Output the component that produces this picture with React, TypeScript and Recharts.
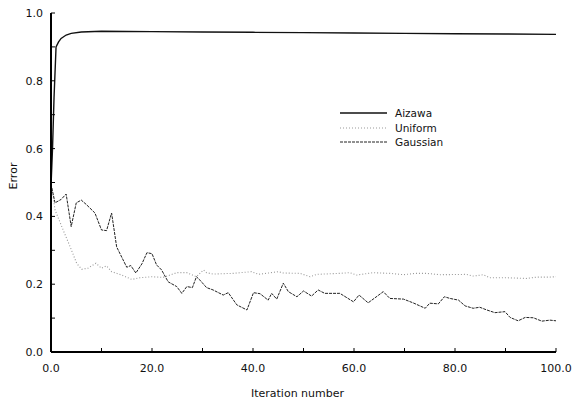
import React from "react";
import { LineChart, Line, XAxis, YAxis, Legend, Label } from "recharts";

const aizawa: number[][] = [
  [0, 0.49], [0.3, 0.6], [0.6, 0.75], [1, 0.9], [1.5, 0.915], [2, 0.925], [3, 0.935], [4, 0.94],
  [6, 0.944], [10, 0.946], [20, 0.945], [30, 0.944], [40, 0.943], [50, 0.942], [60, 0.941],
  [70, 0.94], [80, 0.939], [90, 0.938], [100, 0.937],
];

const uniform: number[][] = [
  [0, 0.5], [0.8, 0.419], [2.4, 0.36], [3.8, 0.31], [5.1, 0.261], [6.1, 0.244], [7.3, 0.247],
  [8.9, 0.262], [10, 0.247], [11, 0.254], [12, 0.237], [14, 0.227], [16, 0.214], [17.6, 0.219],
  [20, 0.222], [22.2, 0.22], [24.9, 0.234], [26.9, 0.234], [28.8, 0.222], [30.2, 0.242],
  [30.8, 0.234], [32.1, 0.23], [36.1, 0.232], [39.7, 0.237], [41.1, 0.229], [45, 0.237],
  [46, 0.233], [49.3, 0.232], [51.3, 0.222], [52.6, 0.229], [57.2, 0.232], [59.2, 0.234],
  [60.5, 0.227], [63.8, 0.234], [67.1, 0.232], [69.8, 0.228], [72.1, 0.232], [74.4, 0.232],
  [77, 0.228], [82.3, 0.229], [83.6, 0.224], [85.6, 0.228], [86.9, 0.219], [90.2, 0.219],
  [94.2, 0.217], [96.2, 0.221], [98.8, 0.221], [100, 0.222],
];

const gaussian: number[][] = [
  [0, 0.495], [0.8, 0.44], [2, 0.45], [3, 0.466], [4, 0.37], [5, 0.44], [6, 0.448], [7, 0.435],
  [8.7, 0.41], [10, 0.36], [11, 0.358], [12, 0.41], [13, 0.31], [14, 0.28], [15, 0.25],
  [15.8, 0.255], [16.8, 0.233], [18, 0.26], [19, 0.293], [20, 0.29], [20.9, 0.257], [21.9, 0.242],
  [23.2, 0.207], [24.9, 0.193], [25.9, 0.173], [26.9, 0.193], [28, 0.19], [28.8, 0.222],
  [29.5, 0.212], [30.8, 0.19], [32.1, 0.183], [34.1, 0.168], [35.1, 0.175], [36.8, 0.139],
  [38.8, 0.124], [40.1, 0.175], [41.4, 0.172], [43, 0.153], [43.7, 0.173], [44.7, 0.156],
  [46, 0.203], [47, 0.178], [48.7, 0.163], [50, 0.18], [51.6, 0.165], [52.9, 0.183],
  [54.2, 0.173], [57.2, 0.173], [59.9, 0.148], [61, 0.168], [62.8, 0.145], [65.8, 0.178],
  [67.1, 0.158], [69.8, 0.156], [71.7, 0.145], [74.1, 0.129], [75, 0.144], [76.7, 0.142],
  [77.9, 0.163], [79, 0.158], [80.7, 0.153], [82, 0.136], [83.6, 0.129], [84.9, 0.132],
  [86.3, 0.124], [87.9, 0.116], [89.9, 0.119], [90.9, 0.102], [92.5, 0.092], [93.9, 0.102],
  [95.5, 0.101], [97.2, 0.091], [98.8, 0.094], [100, 0.092],
];

const xTicks = [0, 10, 20, 30, 40, 50, 60, 70, 80, 90, 100];
const yTicks = [0, 0.1, 0.2, 0.3, 0.4, 0.5, 0.6, 0.7, 0.8, 0.9, 1.0];
const xLabeled = [0, 20, 40, 60, 80, 100];
const yLabeled = [0, 0.2, 0.4, 0.6, 0.8, 1.0];

const toPts = (arr: number[][]) => arr.map(([x, y]) => ({ x, y }));

const FONT = "'DejaVu Sans', sans-serif";

const series = [
  { name: "Aizawa", data: toPts(aizawa), stroke: "#111", dash: undefined as string | undefined, width: 1.4 },
  { name: "Uniform", data: toPts(uniform), stroke: "#999", dash: "1 2", width: 1.1 },
  { name: "Gaussian", data: toPts(gaussian), stroke: "#222", dash: "3 1", width: 1 },
];

const BottomTick = (props: any) => {
  const { x, y, payload } = props;
  const v = payload.value;
  const show = xLabeled.some((t) => Math.abs(t - v) < 1e-6);
  return (
    <g>
      <line x1={x} x2={x} y1={y} y2={y - 4} stroke="#000" strokeWidth={1} />
      {show && (
        <text x={x} y={y + 20} textAnchor="middle" fontFamily={FONT} fontSize={11} fill="#111">
          {v.toFixed(1)}
        </text>
      )}
    </g>
  );
};

const TopTick = (props: any) => {
  const { x, y } = props;
  return <line x1={x} x2={x} y1={y} y2={y + 4} stroke="#000" strokeWidth={1} />;
};

const LeftTick = (props: any) => {
  const { x, y, payload } = props;
  const v = payload.value;
  const show = yLabeled.some((t) => Math.abs(t - v) < 1e-6);
  return (
    <g>
      <line x1={x} x2={x + 4} y1={y} y2={y} stroke="#000" strokeWidth={1} />
      {show && (
        <text x={x - 8} y={y + 4} textAnchor="end" fontFamily={FONT} fontSize={11} fill="#111">
          {v.toFixed(1)}
        </text>
      )}
    </g>
  );
};

const RightTick = (props: any) => {
  const { x, y } = props;
  return <line x1={x} x2={x - 4} y1={y} y2={y} stroke="#000" strokeWidth={1} />;
};

const LegendContent = () => (
  <div style={{ fontFamily: FONT, fontSize: 10.5, color: "#111" }}>
    {series.map((s) => (
      <div key={s.name} style={{ display: "flex", alignItems: "center", height: 14.5 }}>
        <svg width={47} height={6} style={{ display: "block" }}>
          <line x1={0} x2={47} y1={3} y2={3} stroke={s.stroke} strokeWidth={s.width} strokeDasharray={s.dash} />
        </svg>
        <span style={{ marginLeft: 8, lineHeight: "14.5px" }}>{s.name}</span>
      </div>
    ))}
  </div>
);

export default function App() {
  return (
    <div style={{ position: "absolute", left: 0, top: 0, width: 572, height: 403, background: "#fff", overflow: "hidden" }}>
      <LineChart
        width={572}
        height={403}
        margin={{ top: 13, right: 16, bottom: 11, left: 8 }}
        style={{ background: "#fff" }}
      >
        <XAxis
          xAxisId={0}
          type="number"
          dataKey="x"
          domain={[0, 100]}
          ticks={xTicks}
          tickSize={0}
          tickMargin={0}
          height={40}
          tick={<BottomTick />}
          tickLine={false}
          axisLine={{ stroke: "#000", strokeWidth: 1.8 }}
          allowDataOverflow
        >
          <Label
            content={(p: any) => {
              const vb = p.viewBox || { x: 51, y: 352, width: 505 };
              return (
                <text
                  x={vb.x + vb.width / 2 - 6}
                  y={vb.y + 45}
                  textAnchor="middle"
                  fontFamily={FONT}
                  fontSize={11}
                  fill="#111"
                >
                  Iteration number
                </text>
              );
            }}
          />
        </XAxis>
        <XAxis
          xAxisId="top"
          orientation="top"
          type="number"
          dataKey="x"
          domain={[0, 100]}
          ticks={xTicks}
          tickSize={0}
          tickMargin={0}
          height={0}
          tick={<TopTick />}
          tickLine={false}
          axisLine={{ stroke: "#000", strokeWidth: 1.2 }}
          allowDataOverflow
        />
        <YAxis
          yAxisId={0}
          type="number"
          domain={[0, 1]}
          ticks={yTicks}
          tickSize={0}
          tickMargin={0}
          width={43}
          tick={<LeftTick />}
          tickLine={false}
          axisLine={{ stroke: "#000", strokeWidth: 2 }}
          allowDataOverflow
        >
          <Label
            content={(p: any) => {
              const vb = p.viewBox || { x: 8, y: 13, height: 339 };
              const cx = vb.x + 9;
              const cy = 176;
              return (
                <text
                  x={cx}
                  y={cy}
                  textAnchor="middle"
                  fontFamily={FONT}
                  fontSize={11}
                  fill="#111"
                  transform={`rotate(-90, ${cx}, ${cy})`}
                >
                  Error
                </text>
              );
            }}
          />
        </YAxis>
        <YAxis
          yAxisId="right"
          orientation="right"
          type="number"
          domain={[0, 1]}
          ticks={yTicks}
          tickSize={0}
          tickMargin={0}
          width={0}
          tick={<RightTick />}
          tickLine={false}
          axisLine={{ stroke: "#000", strokeWidth: 1.5 }}
          allowDataOverflow
        />
        <Legend
          layout="vertical"
          align="center"
          verticalAlign="middle"
          content={<LegendContent />}
          wrapperStyle={{ position: "absolute", left: 340, top: 106, width: 130 }}
        />
        {series.map((s) => (
          <Line
            key={s.name}
            data={s.data}
            dataKey="y"
            name={s.name}
            type="linear"
            stroke={s.stroke}
            strokeWidth={s.width}
            strokeDasharray={s.dash}
            dot={false}
            activeDot={false}
            isAnimationActive={false}
            xAxisId={0}
            yAxisId={0}
          />
        ))}
      </LineChart>
    </div>
  );
}
